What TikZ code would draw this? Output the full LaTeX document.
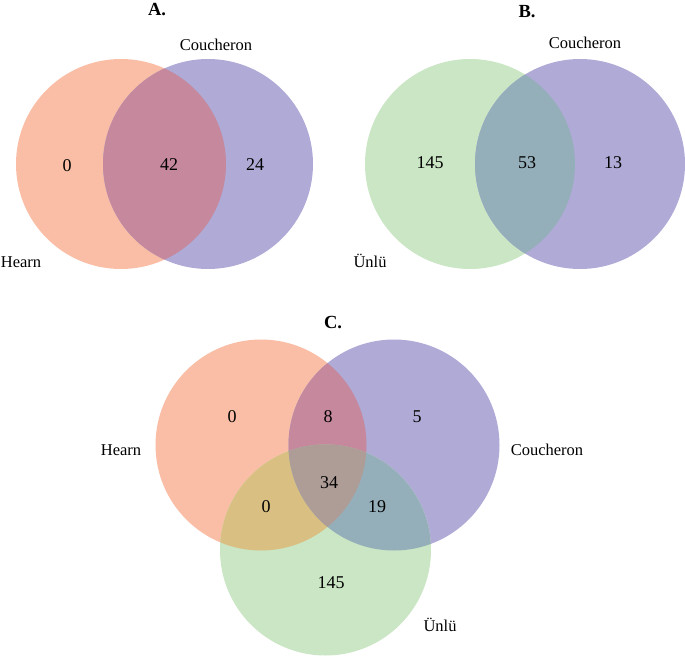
\documentclass[tikz,border=0pt]{standalone}
\usepackage{fontspec}
\setmainfont{Liberation Serif}
\usetikzlibrary{positioning}
\definecolor{vnorange}{HTML}{F9BEA5}
\definecolor{vnpurple}{HTML}{AFAAD6}
\definecolor{vngreen}{HTML}{CAE6C5}
\definecolor{vnorpu}{HTML}{C5889C}
\definecolor{vngrpu}{HTML}{95AFBA}
\definecolor{vnorgr}{HTML}{D9C082}
\definecolor{vnall}{HTML}{AE9C97}

\begin{document}
\begin{tikzpicture}[x=1pt, y=-1pt,
  setname/.style={font=\fontsize{16.5}{18}\selectfont, inner sep=0pt},
  count/.style={font=\fontsize{18}{20}\selectfont, inner sep=0pt},
  paneltitle/.style={font=\fontsize{18.5}{20}\selectfont\bfseries, inner sep=0pt}
]
  \useasboundingbox (0,0) rectangle (685,656);

  % Panel A: Hearn vs Coucheron
  \fill[vnorange] (121,164) circle[radius=105pt];
  \fill[vnpurple] (208,164) circle[radius=105pt];
  \begin{scope}
    \clip (121,164) circle[radius=105pt];
    \fill[vnorpu] (208,164) circle[radius=105pt];
  \end{scope}

  \node[paneltitle] (titleA) at (157,10) {A.};
  \node[setname] (hearnA) at (21,262) {Hearn};
  \node[setname] (couchA) at (216,45) {Coucheron};
  \node[count] (onlyHA) at (67,166) {0};
  \node[count] (bothA) at (169,165) {42};
  \node[count] (onlyCA) at (255,165) {24};

  % Panel B: Ünlü vs Coucheron
  \fill[vngreen] (470,164) circle[radius=105pt];
  \fill[vnpurple] (580,164) circle[radius=105pt];
  \begin{scope}
    \clip (470,164) circle[radius=105pt];
    \fill[vngrpu] (580,164) circle[radius=105pt];
  \end{scope}

  \node[paneltitle] (titleB) at (527,12) {B.};
  \node[setname] (unluB) at (370,261) {Ünlü};
  \node[setname] (couchB) at (585,43) {Coucheron};
  \node[count] (onlyUB) at (430,163) {145};
  \node[count] (bothB) at (527,163) {53};
  \node[count] (onlyCB) at (613,163) {13};

  % Panel C: all three
  \fill[vnorange] (261,445) circle[radius=105.5pt];
  \fill[vnpurple] (394,445) circle[radius=105.5pt];
  \fill[vngreen] (325.5,550) circle[radius=105.5pt];
  \begin{scope}
    \clip (261,445) circle[radius=105.5pt];
    \fill[vnorpu] (394,445) circle[radius=105.5pt];
    \fill[vnorgr] (325.5,550) circle[radius=105.5pt];
  \end{scope}
  \begin{scope}
    \clip (394,445) circle[radius=105.5pt];
    \fill[vngrpu] (325.5,550) circle[radius=105.5pt];
  \end{scope}
  \begin{scope}
    \clip (261,445) circle[radius=105.5pt];
    \clip (394,445) circle[radius=105.5pt];
    \fill[vnall] (325.5,550) circle[radius=105.5pt];
  \end{scope}

  \node[paneltitle] (titleC) at (333,323) {C.};
  \node[setname] (hearnC) at (121,450) {Hearn};
  \node[setname] (couchC) at (547,450) {Coucheron};
  \node[setname] (unluC) at (440,625) {Ünlü};
  \node[count] (onlyHC) at (232,417) {0};
  \node[count] (hcC) at (328,417) {8};
  \node[count] (onlyCC) at (417,417) {5};
  \node[count] (allC) at (329,483) {34};
  \node[count] (huC) at (266,507) {0};
  \node[count] (cuC) at (377,507) {19};
  \node[count] (onlyUC) at (331,583) {145};
\end{tikzpicture}
\end{document}
